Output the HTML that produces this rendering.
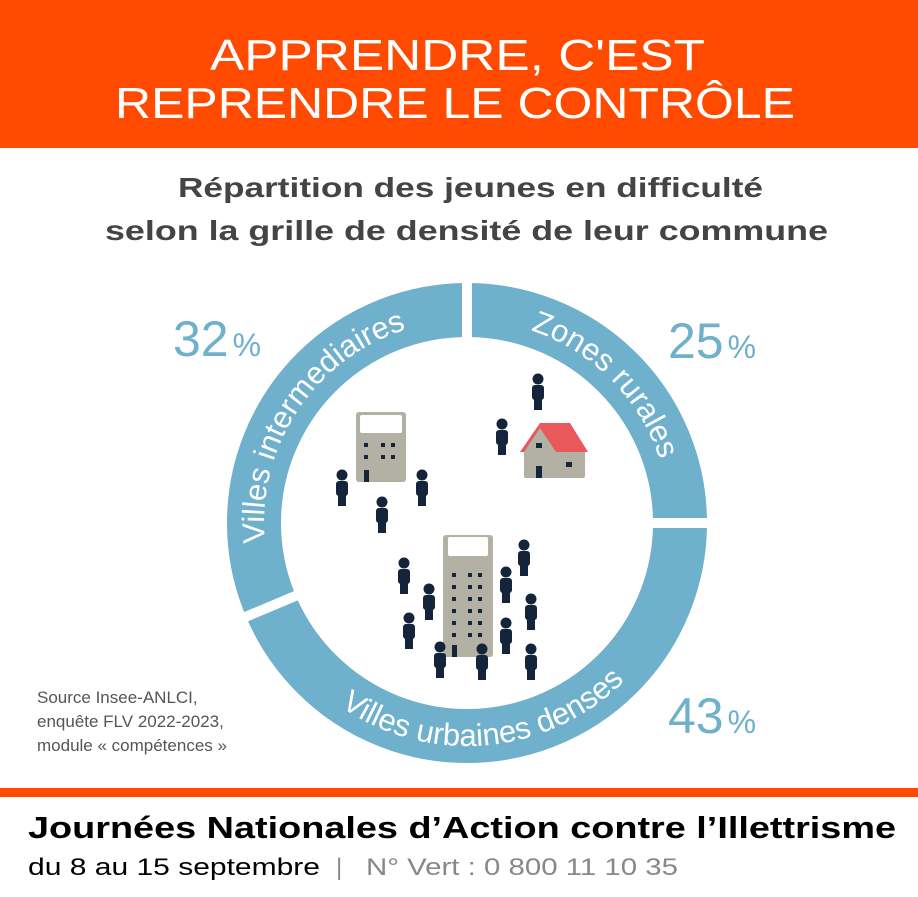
<!DOCTYPE html>
<html><head><meta charset="utf-8"><style>
html,body{margin:0;padding:0;background:#fff}
svg{display:block}
</style></head><body>
<svg width="918" height="897" viewBox="0 0 918 897" xmlns="http://www.w3.org/2000/svg" font-family="Liberation Sans, sans-serif">
<defs>
<g id="p"><circle cx="0" cy="0" r="5.5" fill="#14243A"/><rect x="-6" y="6" width="12" height="15" rx="3" fill="#14243A"/><rect x="-4" y="18" width="8" height="13" fill="#14243A"/></g>
<path id="a1" d="M280.1 602.3 A203 203 0 0 1 467 320"/>
<path id="a2" d="M467 320 A203 203 0 0 1 670 523"/>
<path id="a3" d="M261.7 610.1 A223 223 0 0 0 690 523"/>
</defs>
<rect x="0" y="0" width="918" height="148" fill="#FF4A00"/>
<g fill="#fff" font-size="44" font-family="Liberation Sans, sans-serif" text-anchor="start">
<text x="210" y="70" textLength="495" lengthAdjust="spacingAndGlyphs">APPRENDRE, C'EST</text>
<text x="115" y="118" textLength="680" lengthAdjust="spacingAndGlyphs">REPRENDRE LE CONTRÔLE</text>
</g>
<g fill="#444" font-weight="bold" font-size="28">
<text x="178" y="197" textLength="585" lengthAdjust="spacingAndGlyphs">Répartition des jeunes en difficulté</text>
<text x="105" y="240" textLength="723" lengthAdjust="spacingAndGlyphs">selon la grille de densité de leur commune</text>
</g>
<circle cx="467" cy="523" r="213" fill="none" stroke="#6FB0CC" stroke-width="54"/>
<g stroke="#fff" stroke-width="10">
<line x1="467" y1="270" x2="467" y2="345"/>
<line x1="650" y1="523" x2="720" y2="523"/>
<line x1="224" y1="626" x2="300" y2="594"/>
</g>
<g fill="#fff" font-size="31">
<text text-anchor="middle"><textPath href="#a1" startOffset="50%">Villes intermediaires</textPath></text>
<text text-anchor="middle"><textPath href="#a2" startOffset="50%">Zones rurales</textPath></text>
<text text-anchor="middle"><textPath href="#a3" startOffset="46%">Villes urbaines denses</textPath></text>
</g>
<g fill="#6FB0CC">
<text x="173" y="356" font-size="50">32<tspan font-size="32" dx="4">%</tspan></text>
<text x="668" y="358" font-size="50">25<tspan font-size="32" dx="4">%</tspan></text>
<text x="668" y="733" font-size="50">43<tspan font-size="32" dx="4">%</tspan></text>
</g>
<!-- building 1 -->
<rect x="356" y="412" width="50" height="70" rx="3" fill="#B3B1A3"/>
<rect x="360" y="415" width="42" height="18" rx="2" fill="#fff"/>
<g fill="#14243A">
<rect x="364" y="443" width="4" height="4"/><rect x="381" y="443" width="4" height="4"/><rect x="391" y="443" width="4" height="4"/>
<rect x="364" y="455" width="4" height="4"/><rect x="381" y="455" width="4" height="4"/><rect x="391" y="455" width="4" height="4"/>
<rect x="364" y="470" width="5" height="12"/>
</g>
<!-- house -->
<rect x="524" y="448" width="61" height="30" rx="2" fill="#B3B1A3"/>
<polygon points="540,423 570,423 588,452 520,452" fill="#E9585A"/>
<polygon points="540,428 556,452 524,452" fill="#B3B1A3"/>
<rect x="536" y="443" width="6" height="5" fill="#14243A"/>
<rect x="566" y="462" width="6" height="5" fill="#14243A"/>
<rect x="536" y="466" width="6" height="12" fill="#14243A"/>
<!-- big building -->
<rect x="443" y="535" width="50" height="122" rx="3" fill="#B3B1A3"/>
<rect x="448" y="537" width="40" height="19" rx="2" fill="#fff"/>
<g fill="#14243A">
<rect x="452" y="573" width="4" height="4"/><rect x="468" y="573" width="4" height="4"/><rect x="478" y="573" width="4" height="4"/>
<rect x="452" y="585" width="4" height="4"/><rect x="468" y="585" width="4" height="4"/><rect x="478" y="585" width="4" height="4"/>
<rect x="452" y="597" width="4" height="4"/><rect x="468" y="597" width="4" height="4"/><rect x="478" y="597" width="4" height="4"/>
<rect x="452" y="609" width="4" height="4"/><rect x="468" y="609" width="4" height="4"/><rect x="478" y="609" width="4" height="4"/>
<rect x="452" y="621" width="4" height="4"/><rect x="468" y="621" width="4" height="4"/><rect x="478" y="621" width="4" height="4"/>
<rect x="452" y="633" width="4" height="4"/><rect x="468" y="633" width="4" height="4"/><rect x="478" y="633" width="4" height="4"/>
<rect x="452" y="645" width="5" height="12"/>
</g>
<use href="#p" x="538" y="379"/><use href="#p" x="502" y="424"/><use href="#p" x="342" y="475"/>
<use href="#p" x="422" y="475"/><use href="#p" x="382" y="502"/><use href="#p" x="404" y="563"/>
<use href="#p" x="524" y="545"/><use href="#p" x="429" y="589"/><use href="#p" x="506" y="572"/>
<use href="#p" x="409" y="618"/><use href="#p" x="531" y="599"/><use href="#p" x="506" y="623"/>
<use href="#p" x="440" y="647"/><use href="#p" x="482" y="649"/><use href="#p" x="531" y="649"/>
<g fill="#555" font-size="17">
<text x="37" y="703">Source Insee-ANLCI,</text>
<text x="37" y="727">enquête FLV 2022-2023,</text>
<text x="37" y="751">module « compétences »</text>
</g>
<rect x="0" y="788" width="918" height="9" fill="#FF4A00"/>
<text x="28" y="838" font-size="31" font-weight="bold" fill="#000" textLength="868" lengthAdjust="spacingAndGlyphs">Journées Nationales d’Action contre l’Illettrisme</text>
<text x="28" y="875" font-size="24" fill="#000" textLength="292" lengthAdjust="spacingAndGlyphs">du 8 au 15 septembre</text>
<text x="336" y="875" font-size="24" fill="#888">|</text>
<text x="366" y="875" font-size="24" fill="#888" textLength="312" lengthAdjust="spacingAndGlyphs">N° Vert : 0 800 11 10 35</text>
</svg>
</body></html>
